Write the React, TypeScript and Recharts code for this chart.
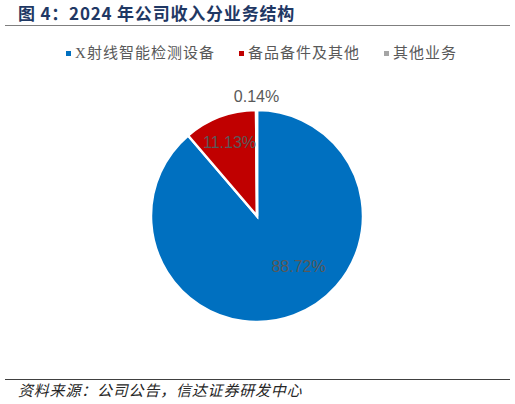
import React from 'react';
import { PieChart, Pie, Cell, Legend } from 'recharts';

// 2024 revenue split by business line (%)
const categories = ['X射线智能检测设备', '备品备件及其他', '其他业务'];
const shares = [88.72, 11.13, 0.14];
const colors = ['#0070C0', '#C00000', '#A5A5A5'];

const data = categories.map((name, i) => ({ name, value: shares[i] }));

const RAD = Math.PI / 180;
const labelFont = '"Liberation Sans", Arial, sans-serif';
const cjkSerif = '"Liberation Serif", "Noto Sans CJK SC", serif';
const cjkSans = '"Noto Sans CJK SC", "Liberation Sans", sans-serif';

// label placement roughly as Excel put them: radius factor + angle nudge per slice
const labelRadius = [0.62, 0.74, 1.13];
const labelAngleShift = [19, 0, 0];

function renderLabel(props: any) {
  const { cx, cy, midAngle, outerRadius, index, value } = props;
  const r = outerRadius * labelRadius[index];
  const a = (midAngle + labelAngleShift[index]) * RAD;
  const x = cx + r * Math.cos(-a);
  const y = cy + r * Math.sin(-a);
  return (
    <text
      x={x}
      y={y}
      fill="#595959"
      fontSize={16}
      fontFamily={labelFont}
      textAnchor="middle"
      dominantBaseline="central"
    >
      {value.toFixed(2)}%
    </text>
  );
}

function LegendContent() {
  return (
    <div style={{ display: 'flex', justifyContent: 'center', gap: 24, paddingLeft: 8 }}>
      {categories.map((c, i) => (
        <div key={c} style={{ display: 'flex', alignItems: 'center' }}>
          <span style={{ width: 5, height: 5, background: colors[i], marginRight: 4 }} />
          <span
            style={{
              fontFamily: cjkSerif,
              fontSize: 15,
              letterSpacing: 1,
              color: '#595959',
              lineHeight: '18px',
            }}
          >
            {c}
          </span>
        </div>
      ))}
    </div>
  );
}

export default function App() {
  return (
    <div style={{ position: 'absolute', left: 0, top: 0, width: 515, height: 404, background: '#fff' }}>
      <div
        style={{
          position: 'absolute',
          left: 18,
          top: 3,
          fontFamily: cjkSans,
          fontWeight: 700,
          fontSize: 17,
          letterSpacing: 0.8,
          color: '#1F3864',
          lineHeight: '20px',
          whiteSpace: 'nowrap',
        }}
      >
        图 4：2024 年公司收入分业务结构
      </div>
      <div style={{ position: 'absolute', left: 5, top: 25, width: 505, height: 1, background: '#7F7F7F' }} />

      <div style={{ position: 'absolute', left: 0, top: 0 }}>
        <PieChart width={515} height={404} margin={{ top: 0, right: 0, bottom: 0, left: 0 }}>
          <Legend
            verticalAlign="top"
            height={18}
            content={<LegendContent />}
            wrapperStyle={{ top: 44, left: 0, width: 515 }}
          />
          <Pie
            data={data}
            dataKey="value"
            cx={257}
            cy={198}
            outerRadius={106}
            startAngle={90}
            endAngle={-270}
            stroke="#FFFFFF"
            strokeWidth={2.5}
            label={renderLabel}
            labelLine={false}
            isAnimationActive={false}
          >
            {data.map((d, i) => (
              <Cell key={d.name} fill={colors[i]} />
            ))}
          </Pie>
        </PieChart>
      </div>

      <div style={{ position: 'absolute', left: 5, top: 379, width: 505, height: 1, background: '#404040' }} />
      <div
        style={{
          position: 'absolute',
          left: 18,
          top: 381,
          fontFamily: cjkSans,
          fontStyle: 'italic',
          fontSize: 15,
          letterSpacing: 0.8,
          color: '#262626',
          lineHeight: '18px',
          whiteSpace: 'nowrap',
        }}
      >
        资料来源：公司公告，信达证券研发中心
      </div>
    </div>
  );
}
